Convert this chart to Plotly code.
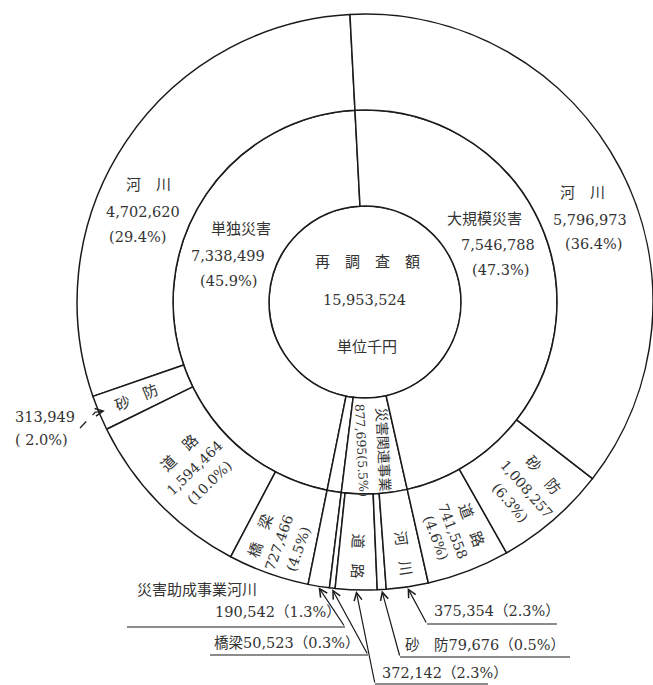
import math
import plotly.graph_objects as go

W, H = 653, 685

# ---------------- data ----------------
total_label = "再　調　査　額"
total_value = 15953524
unit_label = "単位千円"

group_names = ["大規模災害", "災害関連事業", "災害助成事業", "単独災害"]
group_values = [7546788, 877695, 190542, 7338499]
group_pcts = ["47.3%", "5.5%", "1.3%", "45.9%"]

# outer ring, clockwise from 12 o'clock
item_groups = ["大規模災害", "大規模災害", "大規模災害",
               "災害関連事業", "災害関連事業", "災害関連事業", "災害関連事業",
               "災害助成事業",
               "単独災害", "単独災害", "単独災害", "単独災害"]
item_names = ["河川", "砂防", "道路",
              "河川", "砂防", "道路", "橋梁",
              "河川",
              "橋梁", "道路", "砂防", "河川"]
item_values = [5796973, 1008257, 741558,
               375354, 79676, 372142, 50523,
               190542,
               727466, 1594464, 313949, 4702620]
item_pcts = ["36.4%", "6.3%", "4.6%",
             "2.3%", "0.5%", "2.3%", "0.3%",
             "1.3%",
             "4.5%", "10.0%", "2.0%", "29.4%"]

# ---------------- geometry ----------------
DOM_X = [0.118, 1.0]
DOM_Y = [0.137, 0.981]
CX = W * (DOM_X[0] + DOM_X[1]) / 2
CY = H * (1 - (DOM_Y[0] + DOM_Y[1]) / 2)
R = 0.5 * min(W * (DOM_X[1] - DOM_X[0]), H * (DOM_Y[1] - DOM_Y[0]))
OFFSET = -3.0  # start angle of first slice, degrees clockwise from 12 o'clock

FONT = "DejaVu Serif, Noto Sans CJK JP, serif"
TXT = "#333333"
LINE = "#1a1a1a"


def spans(values):
    out, acc = [], 0
    for v in values:
        a0 = OFFSET + 360.0 * acc / total_value
        acc += v
        a1 = OFFSET + 360.0 * acc / total_value
        out.append((a0, a1, (a0 + a1) / 2))
    return out


g_span = spans(group_values)
i_span = spans(item_values)


def pol(theta, r):
    t = math.radians(theta)
    return CX + r * math.sin(t), CY - r * math.cos(t)


def spaced(name):
    return "　".join(name)


# ---------------- sunburst (drawn counter-clockwise, so reversed) ----------------
ids = ["root"]
labels = [""]
parents = [""]
values = [total_value]
for g, v in zip(group_names[::-1], group_values[::-1]):
    ids.append(g); labels.append(g); parents.append("root"); values.append(v)
for k in range(len(item_names) - 1, -1, -1):
    ids.append(f"{item_groups[k]}/{item_names[k]}/{k}")
    labels.append(item_names[k])
    parents.append(item_groups[k])
    values.append(item_values[k])

fig = go.Figure(go.Sunburst(
    ids=ids, labels=labels, parents=parents, values=values,
    branchvalues="total", sort=False, rotation=90 - OFFSET,
    textinfo="none", hoverinfo="skip",
    marker=dict(colors=["#ffffff"] * len(ids), line=dict(color=LINE, width=1.5)),
    leaf=dict(opacity=1),
    domain=dict(x=DOM_X, y=DOM_Y),
))

ann = []
shapes = []


def txt(x, y, s, size=14.5, angle=0, xanchor="center"):
    ann.append(dict(x=x / W, y=1 - y / H, xref="paper", yref="paper", text=s,
                    showarrow=False, textangle=angle, xanchor=xanchor, yanchor="middle",
                    font=dict(size=size, family=FONT, color=TXT)))


def block(cx, cy, lines, sizes, angle, spacing):
    n = len(lines)
    a = math.radians(angle)
    for i, (s, sz) in enumerate(zip(lines, sizes)):
        off = (i - (n - 1) / 2) * spacing
        txt(cx - off * math.sin(a), cy + off * math.cos(a), s, sz, angle)


def line(x0, y0, x1, y1, dash="solid"):
    shapes.append(dict(type="line", xref="paper", yref="paper",
                       x0=x0 / W, y0=1 - y0 / H, x1=x1 / W, y1=1 - y1 / H,
                       line=dict(color=LINE, width=1.2, dash=dash)))


def arrow(tail, theta):
    tx, ty = pol(theta, R + 1)
    ann.append(dict(x=tx / W, y=1 - ty / H, xref="paper", yref="paper", text="",
                    showarrow=True, arrowhead=5, arrowsize=1.3, arrowwidth=1.2,
                    arrowcolor=LINE, ax=tail[0] - tx, ay=tail[1] - ty,
                    axref="pixel", ayref="pixel"))


def num(v):
    return f"{v:,}"


# centre
txt(367, 262, total_label, 15)
txt(364, 300, num(total_value), 14.5)
txt(367, 347, unit_label, 15)

# middle ring big labels
gi = {g: i for i, g in enumerate(group_names)}
k = gi["単独災害"]
txt(241, 229, group_names[k], 15)
txt(228, 256, num(group_values[k]))
txt(228, 281, f"({group_pcts[k]})")
k = gi["大規模災害"]
txt(484, 219, group_names[k], 15)
txt(498, 245, num(group_values[k]))
txt(500, 270, f"({group_pcts[k]})")

# outer ring big labels
k = 11
txt(148, 185, spaced(item_names[k]), 15)
txt(143, 212, num(item_values[k]))
txt(137, 237, f"({item_pcts[k]})")
k = 0
txt(582, 193, spaced(item_names[k]), 15)
txt(590, 220, num(item_values[k]))
txt(593, 244, f"({item_pcts[k]})")

# rotated labels inside narrower slices
# 単独: 砂防 (name only, value outside)
k = 10
x, y = pol(i_span[k][2], 248)
txt(x, y, spaced(item_names[k]), 15, i_span[k][2] - 270)
# 単独: 道路
k = 9
x, y = pol(i_span[k][2], 238)
block(x, y, [spaced(item_names[k]), num(item_values[k]), f"({item_pcts[k]})"],
      [15, 14, 14], i_span[k][2] - 270, 21)
# 単独: 橋梁
k = 8
x, y = pol(i_span[k][2], 255)
block(x, y, [spaced(item_names[k]), num(item_values[k]), f"({item_pcts[k]})"],
      [15, 14, 14], i_span[k][2] - 270, 20)
# 災害関連事業 (middle ring)
k = gi["災害関連事業"]
x, y = pol(g_span[k][2], 148)
block(x, y, [group_names[k], f"{num(group_values[k])}({group_pcts[k]})"],
      [14, 12.5], g_span[k][2] - 90, 21)
# 大規模: 砂防
k = 1
x, y = pol(i_span[k][2], 247)
block(x, y, [spaced(item_names[k]), num(item_values[k]), f"({item_pcts[k]})"],
      [15, 14, 14], i_span[k][2] - 90, 21)
# 大規模: 道路
k = 2
x, y = pol(i_span[k][2], 246)
block(x, y, [spaced(item_names[k]), num(item_values[k]), f"({item_pcts[k]})"],
      [15, 14, 14], i_span[k][2] - 90, 19)
# 関連: 河川, 道路 (names only)
for k in (3, 5):
    x, y = pol(i_span[k][2], 254)
    txt(x, y, spaced(item_names[k]), 15, i_span[k][2] - 90)

# ---------------- call-outs ----------------
# 単独 砂防 313,949
k = 10
txt(13, 417, num(item_values[k]), 14.5, xanchor="left")
txt(13, 440, f"( {item_pcts[k]})", 14.5, xanchor="left")
tx, ty = pol(i_span[k][2], R - 6)
line(80, 428, tx - 10, ty + 2, dash="dash")
ann.append(dict(x=tx / W, y=1 - ty / H, xref="paper", yref="paper", text="",
                showarrow=True, arrowhead=5, arrowsize=1.3, arrowwidth=1.2,
                arrowcolor=LINE, ax=-12, ay=2, axref="pixel", ayref="pixel"))

# 災害助成事業 河川
k = 7
txt(135, 590, "災害助成事業" + item_names[k], 15, xanchor="left")
txt(213, 612, f"{num(item_values[k])}（{item_pcts[k]}）", 14.5, xanchor="left")
line(127, 627, 345, 627)
arrow((345, 627), i_span[k][2])

# 関連 橋梁
k = 6
txt(212, 643, f"{item_names[k]}{num(item_values[k])}（{item_pcts[k]}）", 14.5, xanchor="left")
line(210, 655, 368, 655)
arrow((368, 655), i_span[k][2])

# 関連 道路
k = 5
txt(380, 673, f"{num(item_values[k])}（{item_pcts[k]}）", 14.5, xanchor="left")
line(375, 684, 488, 684)
arrow((375, 684), i_span[k][2])

# 関連 砂防
k = 4
txt(403, 645, f"{spaced(item_names[k])}{num(item_values[k])}（{item_pcts[k]}）", 14.5, xanchor="left")
line(400, 657, 570, 657)
arrow((400, 657), i_span[k][2])

# 関連 河川
k = 3
txt(432, 611, f"{num(item_values[k])}（{item_pcts[k]}）", 14.5, xanchor="left")
line(427, 624, 557, 624)
arrow((427, 624), i_span[k][2])

fig.update_layout(
    width=W, height=H, margin=dict(l=0, r=0, t=0, b=0),
    paper_bgcolor="white", plot_bgcolor="white",
    showlegend=False, annotations=ann, shapes=shapes,
)

fig.write_html("out.html")
